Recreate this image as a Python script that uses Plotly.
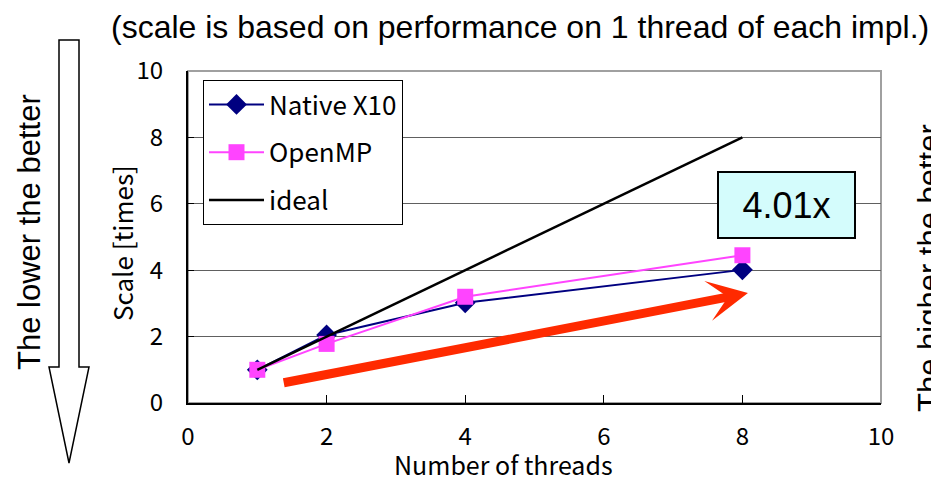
import plotly.graph_objects as go

# ---- data ----
threads = [1, 2, 4, 8]
native_x10 = [1.0, 2.05, 3.02, 4.01]
openmp = [1.0, 1.78, 3.2, 4.45]
ideal = [1, 2, 4, 8]
x_ticks = [0, 2, 4, 6, 8, 10]
y_ticks = [0, 2, 4, 6, 8, 10]

W, H = 931, 477
L, R, T, B = 188, 881, 71, 403  # plot area in px

def px(xp):
    return (xp - L) / (R - L)

def py(yp):
    return (B - yp) / (B - T)

JP = "Noto Sans CJK JP"
AR = "Liberation Sans, Arial"

fig = go.Figure()
fig.add_trace(go.Scatter(x=threads, y=native_x10, name="Native X10", mode="lines+markers",
                         line=dict(color="#000080", width=2),
                         marker=dict(symbol="diamond", size=16, color="#000080"),
                         legendgroup="a"))
fig.add_trace(go.Scatter(x=threads, y=openmp, name="OpenMP", mode="lines+markers",
                         line=dict(color="#ff44ff", width=2),
                         marker=dict(symbol="square", size=16, color="#ff44ff"),
                         legendgroup="b"))
fig.add_trace(go.Scatter(x=threads, y=ideal, name="ideal", mode="lines",
                         line=dict(color="black", width=2.5),
                         legendgroup="c"))

shapes = [
    # gray frame top/right
    dict(type="rect", xref="paper", yref="paper", x0=0, x1=1, y0=0, y1=1,
         line=dict(color="#a0a0a0", width=2), layer="below"),
    # hollow down arrow on left
    dict(type="path", xref="paper", yref="paper",
         path=(f"M{px(59)},{py(40)} L{px(79)},{py(40)} L{px(79)},{py(367)} "
               f"L{px(89)},{py(367)} L{px(69)},{py(463)} L{px(49)},{py(367)} "
               f"L{px(59)},{py(367)} Z"),
         line=dict(color="black", width=1.5), fillcolor="white"),
]

annotations = [
    dict(text="(scale is based on performance on 1 thread of each impl.)",
         xref="paper", yref="paper", x=px(109), y=py(27), xanchor="left", yanchor="middle",
         showarrow=False, font=dict(family=AR, size=32, color="black")),
    dict(text="The lower the better", xref="paper", yref="paper", x=px(29), y=py(232),
         xanchor="center", yanchor="middle", textangle=-90, showarrow=False,
         font=dict(family=AR, size=31, color="black")),
    dict(text="The higher the better", xref="paper", yref="paper", x=px(929), y=py(268),
         xanchor="center", yanchor="middle", textangle=-90, showarrow=False,
         font=dict(family=AR, size=31, color="black")),
    dict(text="Number of threads", xref="paper", yref="paper", x=px(503), y=py(464),
         xanchor="center", yanchor="middle", showarrow=False, height=24, borderpad=0,
         font=dict(family=JP, size=25, color="black")),
    dict(text="Scale [times]", xref="paper", yref="paper", x=px(121), y=py(243),
         xanchor="center", yanchor="middle", textangle=-90, showarrow=False,
         font=dict(family=JP, size=26, color="black")),
    dict(text="4.01x", xref="paper", yref="paper", x=px(786), y=py(205),
         xanchor="center", yanchor="middle", showarrow=False,
         width=135, height=64, borderpad=0, bgcolor="#d4fcfc",
         bordercolor="black", borderwidth=2,
         font=dict(family=AR, size=36, color="black")),
    # red arrow
    dict(x=8.08, y=3.31, ax=1.36, ay=0.6, xref="x", yref="y", axref="x", ayref="y",
         text="", showarrow=True, arrowhead=3, arrowsize=0.75, arrowwidth=9,
         arrowcolor="#ff2a00", standoff=0, startstandoff=0),
]

fig.update_layout(
    width=W, height=H,
    margin=dict(l=L, r=W - R, t=T, b=H - B, pad=0),
    paper_bgcolor="white", plot_bgcolor="white",
    shapes=shapes, annotations=annotations,
    showlegend=True,
    legend=dict(x=px(203), y=py(80), xanchor="left", yanchor="top",
                bgcolor="white", bordercolor="black", borderwidth=1,
                font=dict(family=JP, size=26, color="black"),
                tracegroupgap=11, itemwidth=55),
    xaxis=dict(range=[0, 10], tickvals=x_ticks, ticktext=[str(v) for v in x_ticks],
               showgrid=False, zeroline=False, showline=True, linecolor="black", linewidth=2,
               ticks="inside", ticklen=8, tickcolor="black",
               ticklabelstandoff=11,
               tickfont=dict(family=JP, size=24, color="black")),
    yaxis=dict(range=[0, 10], tickvals=y_ticks, ticktext=[str(v) for v in y_ticks],
               showgrid=True, gridcolor="#606060", gridwidth=1, zeroline=False,
               showline=True, linecolor="black", linewidth=2,
               ticks="inside", ticklen=6, tickcolor="black",
               ticklabelstandoff=18,
               tickfont=dict(family=JP, size=24, color="black")),
)

fig.write_html("out.html")
